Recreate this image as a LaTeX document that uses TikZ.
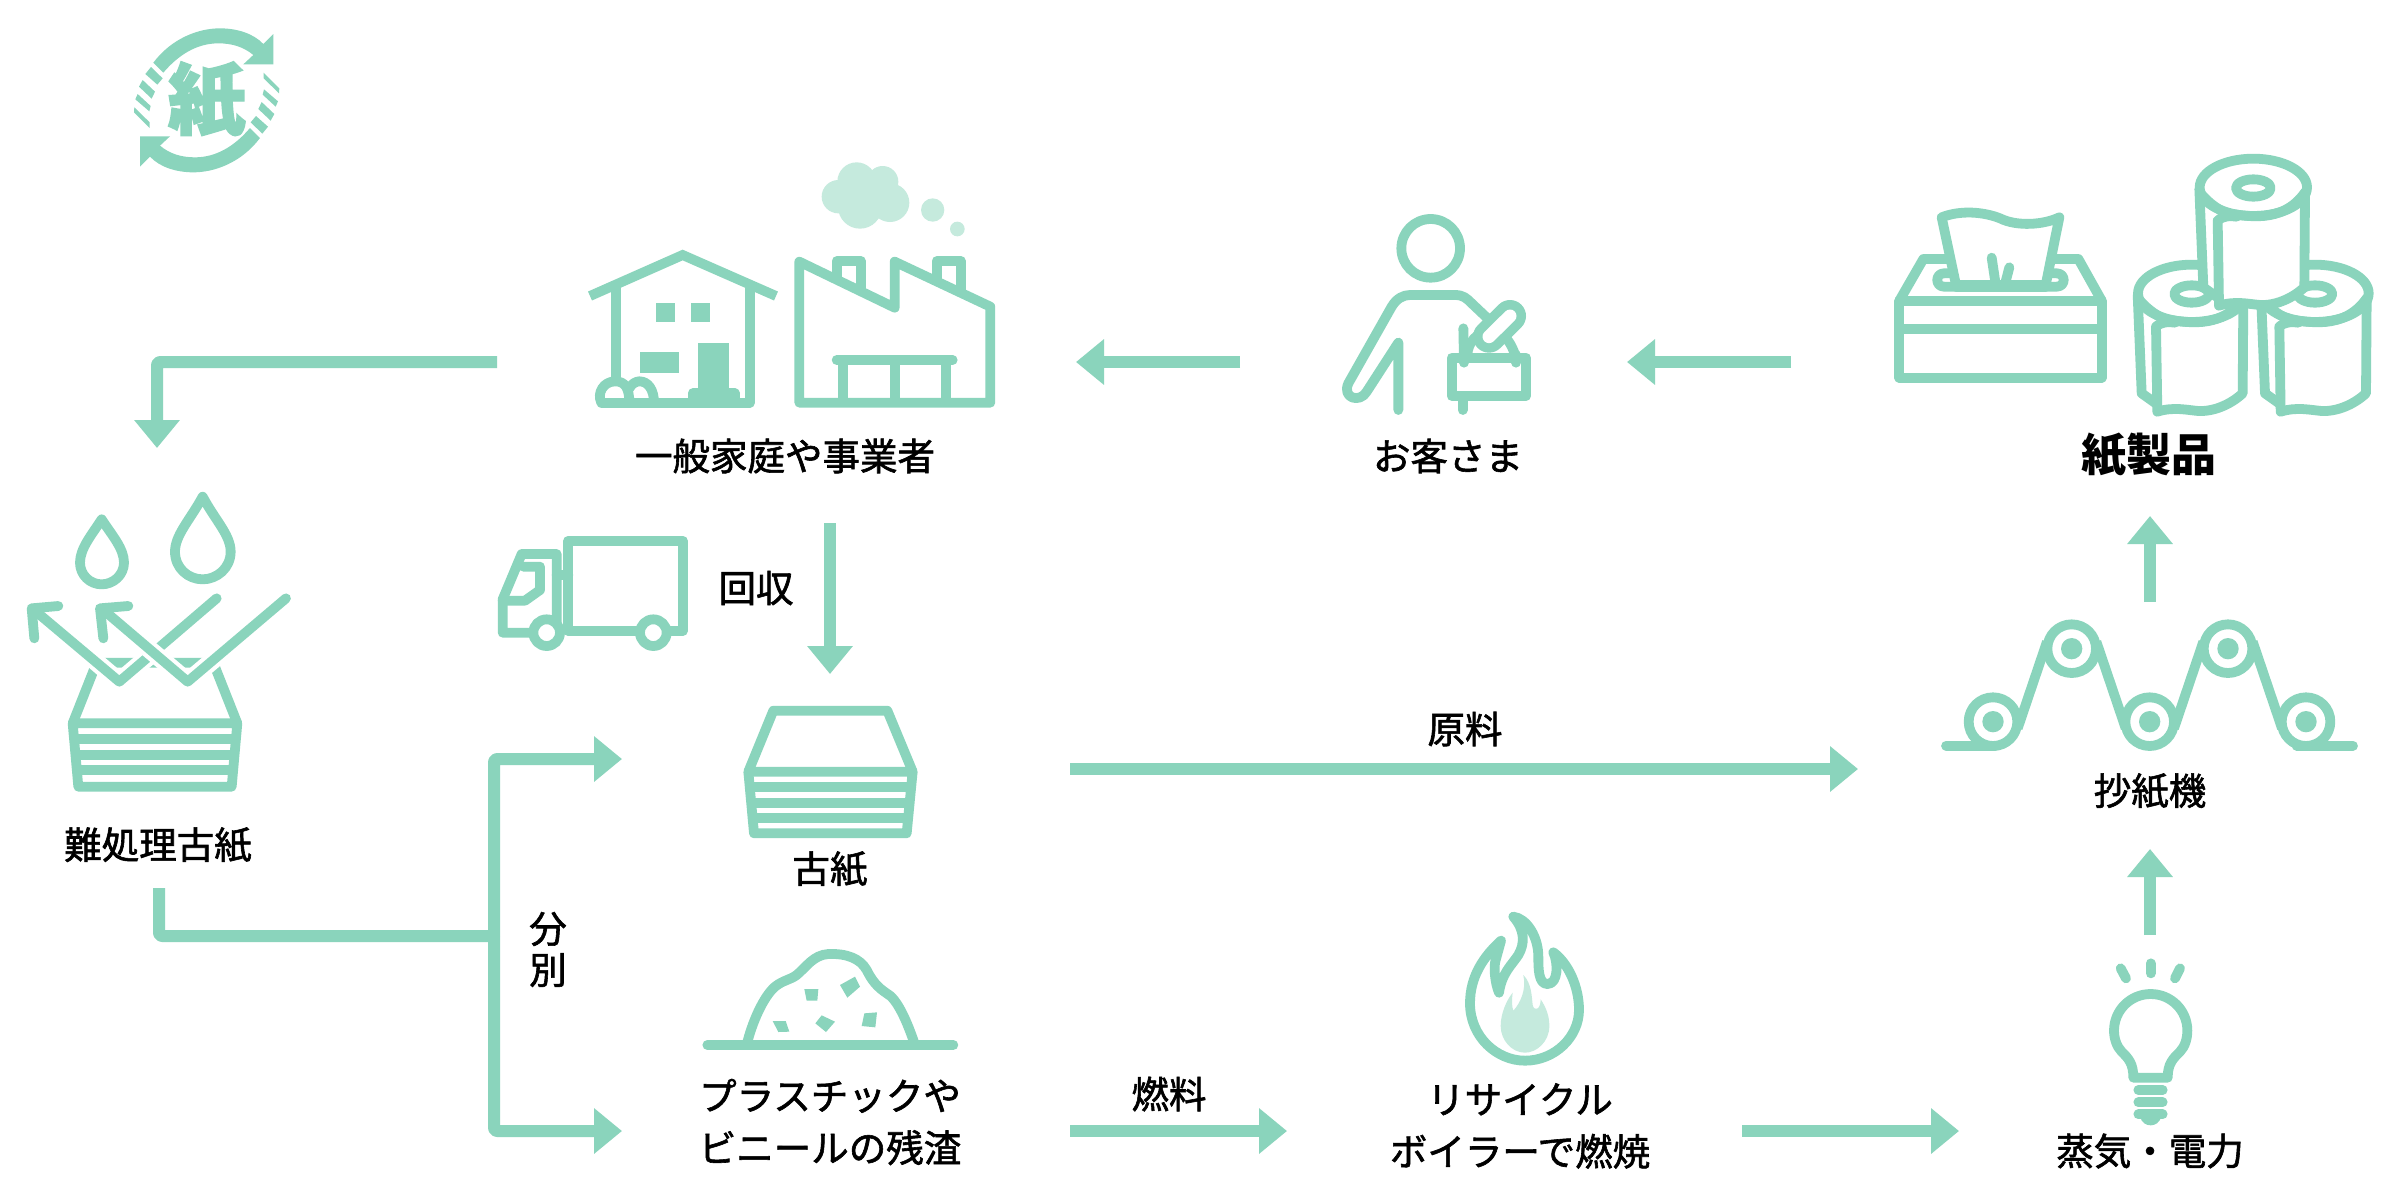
\documentclass[tikz,border=0pt]{standalone}
\usepackage{fontspec}
\usetikzlibrary{arrows.meta}
\setmainfont{Noto Sans CJK JP}
\newcommand{\strk}[2]{\special{pdf:code q 2 Tr #1 w}#2\special{pdf:code Q}}
\definecolor{mint}{HTML}{8AD4BC}
\definecolor{mintlight}{HTML}{C5EADD}
\tikzset{
  icon/.style={draw=mint,line width=9.8pt,line join=round,line cap=round},
  iconbutt/.style={draw=mint,line width=9.8pt,line join=miter,line cap=butt},
  solidbit/.style={fill=mint,draw=none},
  lightbit/.style={fill=mintlight,draw=none},
  halo/.style={draw=white,line width=18pt,line join=miter,line cap=butt},
  flow/.style={draw=mint,line width=12pt,line join=round,rounded corners=3pt,-{Triangle[length=28pt,width=44pt]}},
  plainflow/.style={draw=mint,line width=12pt,line join=round,rounded corners=3pt},
  lbl/.style={font=\fontsize{37.5pt}{52pt}\selectfont,text=black,inner sep=0pt,align=center},
}
\newcommand{\tproll}[1]{%
\begin{scope}[shift={#1}]
  \fill[white] (-162,0) -- (-150,300) -- (-105,355) .. controls (-55,340) and (-15,350) .. (20,353) .. controls (65,355) and (115,335) .. (153,300) -- (162,0) -- cycle;
  \filldraw[icon,fill=white] (0,0) ellipse (161 and 86);
  \draw[icon] (0,2) ellipse (52 and 26);
  \draw[icon] (-162,5) -- (-150,300) -- (-105,332);
  \draw[icon] (-155,22) .. controls (-130,50) and (-100,72) .. (-70,80) .. controls (-30,82) and (85,115) .. (155,15);
  \draw[icon] (155,15) -- (153,300) .. controls (115,335) and (65,355) .. (20,353) .. controls (-15,350) and (-55,340) .. (-103,355) -- (-107,100) .. controls (-90,85) and (-70,85) .. (-50,88);
\end{scope}}
\newcommand{\paperbox}{%
  \draw[icon] (218,730) -- (712,730) -- (695,920) -- (235,920) -- cycle;
  \draw[iconbutt] (225,778) -- (705,778);
  \draw[iconbutt] (225,825) -- (705,825);
  \draw[iconbutt] (225,870) -- (705,870);
}
\newcommand{\machroll}[1]{%
  \filldraw[icon,fill=white] #1 circle (73);
  \fill[mint] #1 circle (32);
}
\begin{document}
\begin{tikzpicture}[x=1pt,y=-1pt]
\useasboundingbox (0,0) rectangle (2400,1200);
\fill[white] (0,0) rectangle (2400,1200);

% ---- recycle logo
\begin{scope}[shift={(100,0)},scale=1/3]
  \foreach \tf in {{},{shift={(640,602)},xscale=-1,yscale=-1}}{
    \begin{scope}[/utils/exec={\expandafter\tikzset\expandafter{\tf}}]
      \fill[mint] (160,188) .. controls (215,115) and (295,85) .. (360,85) .. controls (410,85) and (460,100) .. (490,132) -- (520,102) -- (520,193) -- (430,193) -- (460,165) .. controls (430,140) and (395,130) .. (355,130) .. controls (290,130) and (235,165) .. (190,218) -- cycle;
      \fill[mint] (153,201) -- (188,235) -- (172,254) -- (136,222) -- cycle;
      \fill[mint] (128,240) -- (165,275) -- (155,296) -- (117,260) -- cycle;
      \fill[mint] (113,282) -- (152,318) -- (148,334) -- (106,298) -- cycle;
      \fill[mint] (103,322) -- (149,367) -- (149,384) -- (102,337) -- cycle;
    \end{scope}
  }
  \node[inner sep=0pt,text=mint,font=\fontsize{78pt}{78pt}\selectfont\bfseries] (logochar) at (320,300) {\strk{1.4}{紙}};
\end{scope}

% ---- house
\begin{scope}[shift={(560,140)},scale=1/3]
  \draw[iconbutt] (90,468) -- (368,345) -- (648,468);
  \draw[iconbutt] (167,445) -- (167,720);
  \draw[iconbutt] (570,445) -- (570,788);
  \fill[mint] (288,490) rectangle (345,547);
  \fill[mint] (393,490) rectangle (449,547);
  \fill[mint] (239,637) rectangle (357,700);
  \fill[mint] (414,608) rectangle (508,770);
  \draw[icon,fill=mint] (398,788) -- (398,760) -- (524,760) -- (524,788);
  \filldraw[icon,fill=white] (124,788) .. controls (110,760) and (130,724) .. (166,724) .. controls (195,724) and (208,745) .. (208,788);
  \filldraw[icon,fill=white] (208,745) .. controls (215,730) and (230,724) .. (238,724) .. controls (265,724) and (282,750) .. (282,788);
  \draw[icon] (124,788) -- (570,788);
\end{scope}

% ---- factory
\begin{scope}[shift={(560,140)},scale=1/3]
  \draw[icon] (718,788) -- (718,365) -- (1004,503) -- (1004,365) -- (1291,500) -- (1291,788) -- cycle;
  \draw[icon] (830,415) -- (830,363) -- (902,363) -- (902,450);
  \draw[icon] (1130,415) -- (1130,363) -- (1202,363) -- (1202,450);
  \draw[icon] (830,660) -- (1178,660);
  \draw[iconbutt] (850,660) -- (850,788);
  \draw[iconbutt] (1004,660) -- (1004,788);
  \draw[iconbutt] (1157,660) -- (1157,788);
  \fill[lightbit] (835,170) circle (50) (890,125) circle (58) (968,125) circle (47) (900,200) circle (66) (990,188) circle (58) (935,160) circle (60);
  \fill[lightbit] (1118,210) circle (35) (1192,267) circle (22);
\end{scope}

% ---- customer
\begin{scope}[shift={(1300,190)},scale=1/3]
  \draw[icon] (392,175) circle (88);
  \draw[icon] (295,660) -- (295,458) -- (200,605) .. controls (180,640) and (125,625) .. (145,580) -- (275,350) .. controls (290,325) and (310,315) .. (330,315) -- (465,315) .. controls (490,315) and (500,325) .. (515,340) -- (570,392);
  \draw[icon] (488,620) -- (488,660);
  \draw[icon] (490,415) -- (492,518);
  \draw[iconbutt] (502,495) .. controls (505,420) and (610,380) .. (645,495);
  \draw[icon] (648,518) -- (648,495);
  \draw[draw=mint,line width=32pt,line cap=round] (567,440) -- (630,378);
  \draw[draw=white,line width=13pt,line cap=round] (567,440) -- (630,378);
  \filldraw[icon,fill=white] (455,503) rectangle (678,618);
  \draw[icon] (492,490) -- (492,518);
  \draw[icon] (648,495) -- (648,518);
\end{scope}

% ---- tissue box
\begin{scope}[shift={(1870,130)},scale=1/3]
  \draw[icon] (88,512) rectangle (695,743);
  \draw[iconbutt] (88,597) -- (695,597);
  \draw[icon] (88,512) -- (160,387) -- (625,387) -- (695,512);
  \filldraw[icon,fill=white] (222,430) .. controls (195,430) and (195,470) .. (222,470) -- (560,470) .. controls (588,470) and (588,430) .. (560,430) -- cycle;
  \filldraw[icon,fill=white] (215,262) .. controls (270,240) and (340,245) .. (390,265) .. controls (440,290) and (520,285) .. (568,262) -- (527,465) -- (258,465) -- cycle;
  \draw[icon] (365,383) -- (378,470);
  \draw[icon] (418,412) -- (403,470);
  \draw[icon] (258,470) -- (527,470);
\end{scope}

% ---- toilet rolls
\begin{scope}[shift={(1870,130)},scale=1/3]
  \tproll{(965,490)}
  \tproll{(1335,490)}
  \tproll{(1150,172)}
\end{scope}

% ---- hard-to-process paper
\begin{scope}[shift={(0,480)},scale=1/3]
  \draw[icon] (608,50) .. controls (570,120) and (525,165) .. (525,215) .. controls (525,265) and (565,298) .. (608,298) .. controls (650,298) and (692,265) .. (692,215) .. controls (692,165) and (645,120) .. (608,50) -- cycle;
  \draw[icon] (305,118) .. controls (275,165) and (240,205) .. (240,248) .. controls (240,285) and (270,313) .. (305,313) .. controls (340,313) and (372,285) .. (372,248) .. controls (372,205) and (335,165) .. (305,118) -- cycle;
  \draw[icon] (218,730) -- (290,548) -- (640,548) -- (712,730);
  \paperbox
  \draw[halo] (650,355) -- (358,605) -- (110,395);
  \draw[icon] (650,355) -- (358,605) -- (100,388);
  \draw[icon] (175,378) -- (95,385) -- (103,475);
  \draw[halo] (858,355) -- (563,605) -- (315,395);
  \draw[icon] (858,355) -- (563,605) -- (308,388);
  \draw[icon] (385,378) -- (300,385) -- (310,475);
\end{scope}

% ---- truck
\begin{scope}[shift={(480,510)},scale=1/3]
  \draw[icon] (265,92) rectangle (608,363);
  \draw[icon] (150,368) -- (68,368) -- (68,268) -- (125,132) -- (230,132) -- (230,340);
  \draw[icon] (130,170) -- (180,170) -- (180,240) -- (135,272) -- (68,272);
  \draw[icon] (230,195) -- (265,195);
  \filldraw[icon,fill=white] (200,368) circle (40);
  \filldraw[icon,fill=white] (520,368) circle (40);
\end{scope}

% ---- waste paper
\begin{scope}[shift={(480,510)},scale=1/3]
  \draw[icon] (805,785) -- (880,602) -- (1222,602) -- (1298,785);
  \draw[icon] (805,785) -- (1298,785) -- (1280,970) -- (822,970) -- cycle;
  \draw[iconbutt] (810,832) -- (1293,832);
  \draw[iconbutt] (812,880) -- (1290,880);
  \draw[iconbutt] (815,925) -- (1287,925);
\end{scope}

% ---- residue pile
\begin{scope}[shift={(680,930)},scale=1/3]
  \draw[icon] (200,345) .. controls (215,280) and (250,200) .. (285,170) .. controls (310,150) and (330,150) .. (350,135) .. controls (380,110) and (400,75) .. (445,72) .. controls (500,70) and (540,85) .. (560,120) .. controls (575,150) and (590,170) .. (620,190) .. controls (650,205) and (680,270) .. (705,345);
  \draw[icon] (82,345) -- (820,345);
  \fill[mint] (373,177) -- (415,177) -- (412,212) -- (380,212) -- cycle;
  \fill[mint] (480,165) -- (525,140) -- (540,170) -- (502,203) -- cycle;
  \fill[mint] (278,273) -- (317,273) -- (328,305) -- (295,306) -- cycle;
  \fill[mint] (425,256) -- (465,275) -- (438,306) -- (406,280) -- cycle;
  \fill[mint] (553,250) -- (591,247) -- (586,292) -- (545,288) -- cycle;
\end{scope}

% ---- flame
\begin{scope}[shift={(1430,900)},scale=1/3]
  \fill[lightbit] (280,225) .. controls (305,250) and (305,290) .. (308,315) .. controls (312,335) and (332,330) .. (332,298) .. controls (350,325) and (358,350) .. (358,378) .. controls (358,425) and (320,458) .. (285,458) .. controls (245,458) and (212,420) .. (212,378) .. controls (212,340) and (230,300) .. (248,278) .. controls (245,300) and (245,320) .. (250,332) .. controls (270,310) and (290,270) .. (280,225) -- cycle;
  \draw[icon] (213,122) .. controls (160,170) and (120,230) .. (120,310) .. controls (120,410) and (200,482) .. (285,482) .. controls (375,482) and (447,410) .. (447,330) .. controls (447,260) and (415,190) .. (370,157) .. controls (385,190) and (385,252) .. (352,252) .. controls (325,252) and (325,205) .. (325,170) .. controls (325,110) and (290,55) .. (250,50) .. controls (285,90) and (285,130) .. (265,165) .. controls (245,195) and (215,220) .. (207,278) .. controls (195,250) and (190,200) .. (197,180) -- (213,122);
\end{scope}

% ---- bulb
\begin{scope}[shift={(2040,940)},scale=1/3]
  \draw[icon] (383,413) .. controls (383,370) and (400,355) .. (420,335) .. controls (435,320) and (442,295) .. (442,272) .. controls (442,210) and (392,162) .. (332,162) .. controls (272,162) and (222,210) .. (222,272) .. controls (222,295) and (230,320) .. (245,335) .. controls (265,355) and (280,370) .. (280,413) -- cycle;
  \draw[icon] (295,450) -- (368,450);
  \draw[icon] (295,487) -- (368,487);
  \draw[icon] (295,523) -- (368,523);
  \fill[mint] (300,530) .. controls (305,548) and (318,556) .. (332,556) .. controls (346,556) and (358,548) .. (364,530) -- cycle;
  \draw[icon] (242,85) -- (258,115);
  \draw[icon] (332,70) -- (332,100);
  \draw[icon] (420,85) -- (405,115);
\end{scope}

% ---- paper machine
\begin{scope}[shift={(1920,600)},scale=1/3]
  \draw[icon] (78,437) -- (225,437);
  \draw[icon] (1130,437) -- (1299,437);
  \draw[iconbutt] (293,385) -- (381,125);
  \draw[iconbutt] (529,125) -- (617,385);
  \draw[iconbutt] (762,385) -- (850,125);
  \draw[iconbutt] (998,125) -- (1086,385);
  \machroll{(219,365)}
  \machroll{(455,146)}
  \machroll{(689,365)}
  \machroll{(924,146)}
  \machroll{(1158,365)}
\end{scope}

% ---- connector ends
\coordinate (houseout) at (497,362);
\coordinate (hardin) at (157,448);
\coordinate (custout) at (1240,362);
\coordinate (housein) at (1076,362);
\coordinate (prodout) at (1791,362);
\coordinate (custin) at (1627,362);
\coordinate (collectout) at (830,523);
\coordinate (wastein) at (830,674);
\coordinate (hardout) at (159,888);
\coordinate (junction) at (494,936);
\coordinate (sorttop) at (622,759);
\coordinate (sortbot) at (622,1131);
\coordinate (wasteout) at (1070,769);
\coordinate (machinein) at (1858,769);
\coordinate (residueout) at (1070,1131);
\coordinate (boilerin) at (1287,1131);
\coordinate (boilerout) at (1742,1131);
\coordinate (steamin) at (1959,1131);
\coordinate (steamout) at (2150,935);
\coordinate (machinelow) at (2150,849);
\coordinate (machineout) at (2150,602);
\coordinate (prodin) at (2150,516);

\draw[flow] (houseout) -| (hardin);
\draw[flow] (custout) -- (housein);
\draw[flow] (prodout) -- (custin);
\draw[flow] (collectout) -- (wastein);
\draw[plainflow] (hardout) |- (junction);
\draw[flow] (junction) |- (sorttop);
\draw[flow] (junction) |- (sortbot);
\draw[flow] (wasteout) -- (machinein);
\draw[flow] (residueout) -- (boilerin);
\draw[flow] (boilerout) -- (steamin);
\draw[flow] (steamout) -- (machinelow);
\draw[flow] (machineout) -- (prodin);

% ---- labels
\node[lbl] (lhome) at (785,456) {\strk{0.6}{一般家庭や事業者}};
\node[lbl] (lcust) at (1448,456) {\strk{0.6}{お客さま}};
\node[lbl,font=\fontsize{45pt}{50pt}\selectfont\bfseries] (lprod) at (2149,455) {紙製品};
\node[lbl] (lcollect) at (756,588) {\strk{0.6}{回収}};
\node[lbl] (lhard) at (158,845) {\strk{0.6}{難処理古紙}};
\node[lbl] (lwaste) at (830,869) {\strk{0.6}{古紙}};
\node[lbl] (lraw) at (1465,729) {\strk{0.6}{原料}};
\node[lbl] (lsort1) at (548,929) {\strk{0.6}{分}};
\node[lbl] (lsort2) at (548,970) {\strk{0.6}{別}};
\node[lbl] (lresidue) at (830,1122) {\strk{0.6}{プラスチックや}\\\strk{0.6}{ビニールの残渣}};
\node[lbl] (lfuel) at (1169,1094) {\strk{0.6}{燃料}};
\node[lbl] (lboiler) at (1520,1126) {\strk{0.6}{リサイクル}\\\strk{0.6}{ボイラーで燃焼}};
\node[lbl] (lsteam) at (2150,1151) {\strk{0.6}{蒸気・電力}};
\node[lbl] (lmachine) at (2150,791) {\strk{0.6}{抄紙機}};
\end{tikzpicture}
\end{document}
